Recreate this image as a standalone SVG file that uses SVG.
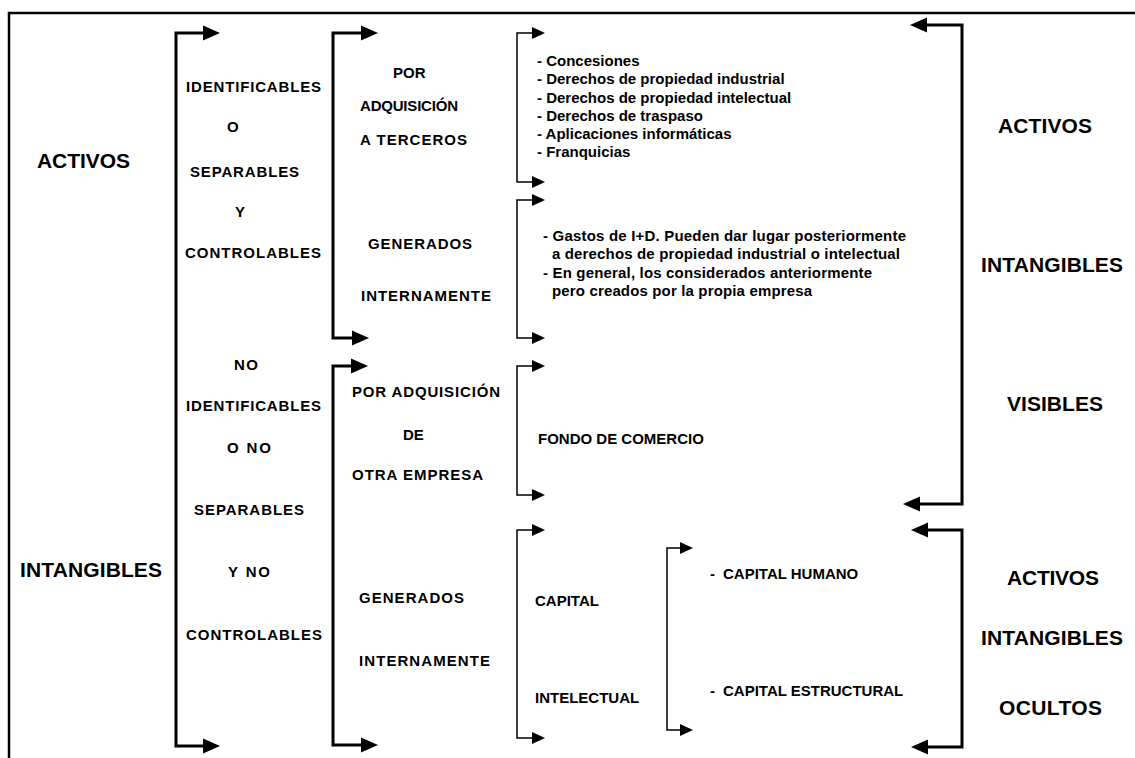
<svg xmlns="http://www.w3.org/2000/svg" width="1135" height="758" viewBox="0 0 1135 758">
<style>
text{font-family:"Liberation Sans",Arial,sans-serif;font-weight:bold;fill:#000}
.big{font-size:21px}
.mid{font-size:15px}
.sm{font-size:15px}
.thick{fill:none;stroke:#000;stroke-width:3;marker-start:url(#ah);marker-end:url(#ah)}
.thin{fill:none;stroke:#000;stroke-width:1.5;marker-start:url(#as);marker-end:url(#as)}
.frame{fill:none;stroke:#000;stroke-width:2.5}
</style>
<defs>
<marker id="ah" markerUnits="userSpaceOnUse" markerWidth="18" markerHeight="16" refX="0" refY="8" orient="auto-start-reverse" viewBox="0 0 18 16">
<path d="M0,0.5 L17,8 L0,15.5 Z" fill="#000"/>
</marker>
<marker id="as" markerUnits="userSpaceOnUse" markerWidth="14" markerHeight="12" refX="0" refY="6" orient="auto-start-reverse" viewBox="0 0 14 12">
<path d="M0,0 L13,6 L0,12 Z" fill="#000"/>
</marker>
</defs>
<rect width="1135" height="758" fill="#fff"/>
<path class="frame" d="M9,758 V13 H1135"/>
<g id="connectors">
<path class="thick" d="M203,33 H176 V746 H203"/>
<path class="thick" d="M361,33 H333 V338 H352"/>
<path class="thick" d="M351,366 H333 V745 H361"/>
<path class="thick" d="M927,25 H962 V504 H920"/>
<path class="thick" d="M928,530 H962 V747 H928"/>
<path class="thin" d="M532,33 H517 V182 H532"/>
<path class="thin" d="M532,200 H517 V338 H532"/>
<path class="thin" d="M532,366 H517 V495 H532"/>
<path class="thin" d="M532,530 H517 V738 H532"/>
<path class="thin" d="M680,548 H667 V730 H680"/>
</g>
<g id="activos-intangibles">
<text class="big" x="37" y="168" textLength="93">ACTIVOS</text>
<text class="big" x="20" y="577" textLength="142">INTANGIBLES</text>
</g>
<g id="identificables">
<text class="mid" x="186" y="92" textLength="135">IDENTIFICABLES</text>
<text class="mid" x="227" y="132">O</text>
<text class="mid" x="190" y="177" textLength="109">SEPARABLES</text>
<text class="mid" x="235" y="217">Y</text>
<text class="mid" x="185" y="258" textLength="136">CONTROLABLES</text>
</g>
<g id="no-identificables">
<text class="mid" x="234" y="370" textLength="24">NO</text>
<text class="mid" x="186" y="411" textLength="135">IDENTIFICABLES</text>
<text class="mid" x="227" y="453" textLength="44">O NO</text>
<text class="mid" x="194" y="515" textLength="110">SEPARABLES</text>
<text class="mid" x="228" y="577" textLength="42">Y NO</text>
<text class="mid" x="186" y="640" textLength="136">CONTROLABLES</text>
</g>
<g id="adquisicion-terceros">
<text class="mid" x="393" y="78">POR</text>
<text class="mid" x="360" y="111" textLength="98">ADQUISICIÓN</text>
<text class="mid" x="360" y="145" textLength="107">A TERCEROS</text>
</g>
<g id="generados-1">
<text class="mid" x="368" y="249" textLength="104">GENERADOS</text>
<text class="mid" x="361" y="301" textLength="130">INTERNAMENTE</text>
</g>
<g id="adquisicion-empresa">
<text class="mid" x="352" y="397" textLength="148">POR ADQUISICIÓN</text>
<text class="mid" x="403" y="440">DE</text>
<text class="mid" x="352" y="480" textLength="131">OTRA EMPRESA</text>
</g>
<g id="generados-2">
<text class="mid" x="359" y="603" textLength="105">GENERADOS</text>
<text class="mid" x="359" y="666" textLength="131">INTERNAMENTE</text>
</g>
<g id="lista-adquiridos">
<text class="sm" x="537" y="66">- Concesiones</text>
<text class="sm" x="537" y="84">- Derechos de propiedad industrial</text>
<text class="sm" x="537" y="103">- Derechos de propiedad intelectual</text>
<text class="sm" x="537" y="121">- Derechos de traspaso</text>
<text class="sm" x="537" y="139">- Aplicaciones informáticas</text>
<text class="sm" x="537" y="157">- Franquicias</text>
</g>
<g id="lista-generados">
<text class="sm" x="543" y="241" textLength="363">- Gastos de I+D. Pueden dar lugar posteriormente</text>
<text class="sm" x="552" y="259" textLength="348">a derechos de propiedad industrial o intelectual</text>
<text class="sm" x="543" y="278" textLength="329">- En general, los considerados anteriormente</text>
<text class="sm" x="552" y="296" textLength="260">pero creados por la propia empresa</text>
</g>
<g id="fondo-comercio">
<text class="sm" x="538" y="444">FONDO DE COMERCIO</text>
</g>
<g id="capital-intelectual">
<text class="sm" x="535" y="606">CAPITAL</text>
<text class="sm" x="535" y="703">INTELECTUAL</text>
</g>
<g id="capital-tipos">
<text class="sm" y="579"><tspan x="710">-</tspan><tspan x="723">CAPITAL HUMANO</tspan></text>
<text class="sm" y="696"><tspan x="710">-</tspan><tspan x="723">CAPITAL ESTRUCTURAL</tspan></text>
</g>
<g id="visibles">
<text class="big" x="998" y="133" textLength="94">ACTIVOS</text>
<text class="big" x="981" y="272" textLength="142">INTANGIBLES</text>
<text class="big" x="1007" y="411" textLength="96">VISIBLES</text>
</g>
<g id="ocultos">
<text class="big" x="1007" y="585" textLength="92">ACTIVOS</text>
<text class="big" x="981" y="645" textLength="142">INTANGIBLES</text>
<text class="big" x="999" y="715" textLength="103">OCULTOS</text>
</g>
</svg>
